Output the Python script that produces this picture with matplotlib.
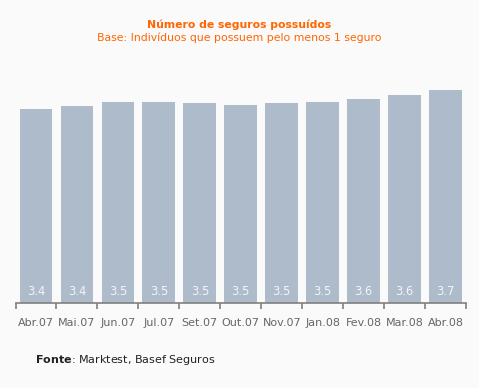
import matplotlib
matplotlib.use("Agg")
import matplotlib.pyplot as plt

months = ['Abr.07', 'Mai.07', 'Jun.07', 'Jul.07', 'Set.07', 'Out.07',
          'Nov.07', 'Jan.08', 'Fev.08', 'Mar.08', 'Abr.08']
seguros = [3.40, 3.44, 3.51, 3.52, 3.49, 3.46, 3.49, 3.52, 3.56, 3.64, 3.72]

BG = '#fafafa'
BAR = '#aebbcb'
ORANGE = '#ff6600'
GREY = '#808080'

W, H = 479, 388
fig = plt.figure(figsize=(W / 100, H / 100), dpi=100, facecolor=BG)
ax = fig.add_axes([15.5 / W, 1 - 302.5 / H, (466 - 15.5) / W, (302.5 - 60) / H])
ax.set_facecolor(BG)

x = range(len(months))
ax.bar(x, seguros, width=0.8, color=BAR, zorder=2)
for i, v in zip(x, seguros):
    ax.text(i, 0.2, '%.1f' % v, ha='center', va='center',
            color='#f4f4f4', fontsize=8.3)

ax.set_xlim(-0.5, len(months) - 0.5)
ax.set_ylim(0, 4.25)
for s in ['top', 'right', 'left']:
    ax.spines[s].set_visible(False)
ax.spines['bottom'].set_color(GREY)
ax.spines['bottom'].set_linewidth(1.2)
ax.set_yticks([])
ax.set_xticks([i - 0.5 for i in range(len(months) + 1)])
ax.set_xticklabels([])
ax.set_xticks(list(x), minor=True)
ax.set_xticklabels(months, minor=True, fontsize=8, color='#666666')
ax.tick_params(axis='x', which='major', length=4, width=1.2, color=GREY)
ax.tick_params(axis='x', which='minor', length=0, pad=11)

fig.text(0.5, 1 - 25 / H, 'Número de seguros possuídos', ha='center', va='center',
         color=ORANGE, fontsize=7.8, fontweight='bold')
fig.text(0.5, 1 - 38 / H, 'Base: Indivíduos que possuem pelo menos 1 seguro',
         ha='center', va='center', color=ORANGE, fontsize=7.8)
fig.text(35 / W, 1 - 360 / H, r'$\bf{Fonte}$: Marktest, Basef Seguros',
         ha='left', va='center', color='#222222', fontsize=8)

fig.savefig('out.png', dpi=100, facecolor=BG)
